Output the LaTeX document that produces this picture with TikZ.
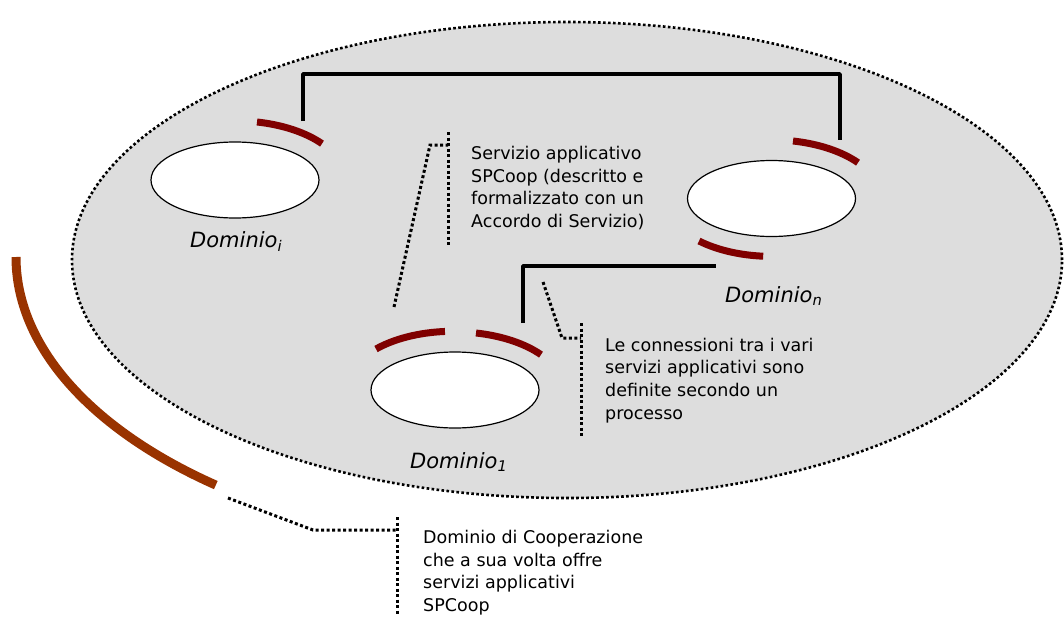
\documentclass[tikz,border=0pt]{standalone}
\usepackage{fontspec}
\setmainfont{DejaVu Sans}
\usetikzlibrary{shapes.geometric}
\definecolor{bggray}{HTML}{DDDDDD}
\definecolor{portred}{HTML}{800000}
\definecolor{brownarc}{HTML}{993300}
\begin{document}
\begin{tikzpicture}[x=1pt,y=-1pt,
  dom/.style={ellipse, draw=black, fill=white, line width=1.2pt, minimum width=168pt, minimum height=76pt, inner sep=0pt},
  portarc/.style={draw=portred, line width=7pt},
  link/.style={draw=black, line width=3.5pt, line join=round},
  callout/.style={draw=black, line width=3pt, dash pattern=on 3pt off 2.5pt},
  note/.style={font=\fontsize{17.5}{22.7}\selectfont, align=left, anchor=north west, inner sep=0pt},
  domlbl/.style={font=\fontsize{21}{25}\selectfont\itshape, anchor=base west, inner sep=0pt}]
\useasboundingbox (0,0) rectangle (1064,618);
% cooperation domain
\draw[fill=bggray, line width=2.6pt, dash pattern=on 2.6pt off 2.4pt] (567,260) ellipse [x radius=495pt, y radius=238pt];
\draw[draw=brownarc, line width=9pt] (16,257) arc[start angle=180, end angle=230.4, x radius=551pt, y radius=296pt];
% domains
\node[dom] (di) at (235,180) {};
\node[dom] (dn) at (771.5,198.5) {};
\node[dom] (d1) at (455,390) {};
\node[domlbl] (li) at (190,247) {Dominio\textsubscript{i}};
\node[domlbl] (ln) at (725,302) {Dominio\textsubscript{n}};
\node[domlbl] (l1) at (410,468) {Dominio\textsubscript{1}};
% ports
\draw[portarc] (257,122) arc[start angle=78.5, end angle=37.8, x radius=110pt, y radius=59pt];
\draw[portarc] (793,141) arc[start angle=78.5, end angle=37.8, x radius=110pt, y radius=59pt];
\draw[portarc] (699,241) arc[start angle=227.3, end angle=265.5, x radius=107pt, y radius=58pt];
\draw[portarc] (376,349) arc[start angle=136, end angle=94.3, x radius=107pt, y radius=58pt];
\draw[portarc] (476,333) arc[start angle=78.5, end angle=37.8, x radius=110pt, y radius=59pt];
% connectors
\coordinate (pi) at (303,121);
\coordinate (pn) at (840,140);
\coordinate (p1) at (523,323);
\coordinate (pn2) at (716,266);
\draw[link] (pi) -- ++(0,-47) -| (pn);
\draw[link] (p1) |- (pn2);
% notes
\node[note] (tserv) at (471,146) {Servizio applicativo\\SPCoop (descritto e\\formalizzato con un\\Accordo di Servizio)};
\node[note] (tconn) at (605,337.5) {Le connessioni tra i vari\\servizi applicativi sono\\definite secondo un\\processo};
\node[note] (tcoop) at (423,530) {Dominio di Cooperazione\\che a sua volta offre\\servizi applicativi\\SPCoop};
% callouts
\coordinate (s1) at (448,132); \coordinate (s2) at (448,246);
\coordinate (s3) at (430,145); \coordinate (s4) at (394,307);
\draw[callout] (s1) -- (s2);
\draw[callout] (s4) -- (s3) -- (448,145);
\coordinate (c1) at (543,282); \coordinate (c2) at (562,338);
\coordinate (c3) at (581,323); \coordinate (c4) at (581,438);
\draw[callout] (c1) -- (c2) -- (c2 -| c3);
\draw[callout] (c3) -- (c4);
\coordinate (k1) at (228,498); \coordinate (k2) at (313,530);
\coordinate (k3) at (397,517); \coordinate (k4) at (397,615);
\draw[callout] (k1) -- (k2) -- (k2 -| k3);
\draw[callout] (k3) -- (k4);
\end{tikzpicture}
\end{document}
